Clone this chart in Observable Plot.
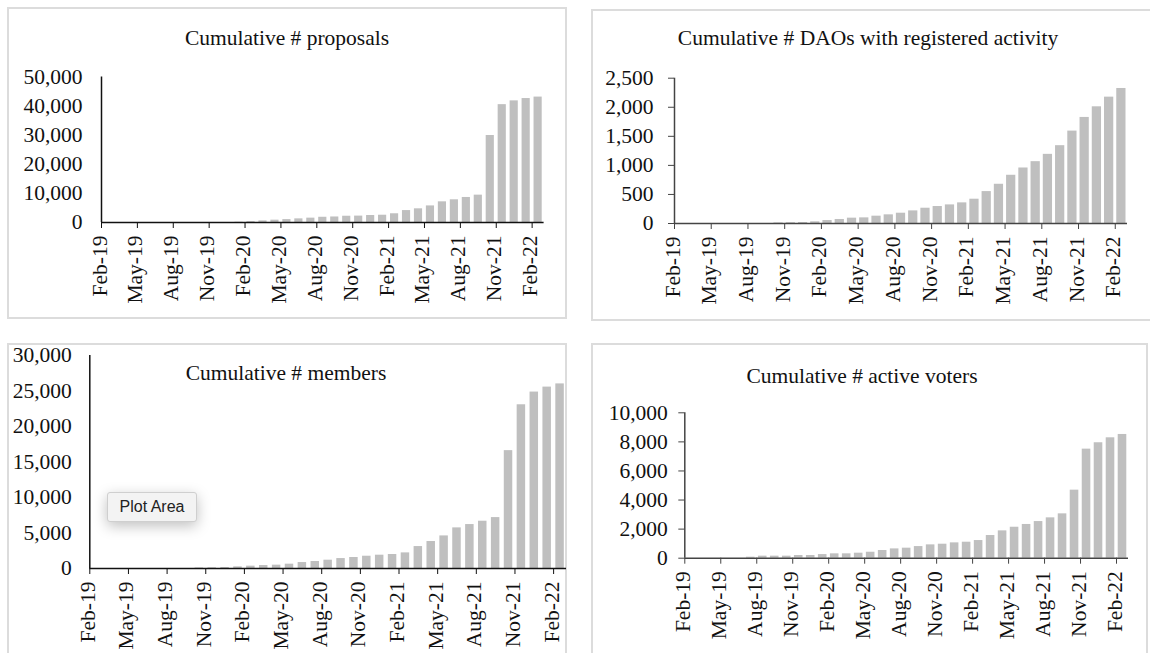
<!DOCTYPE html>
<html><head><meta charset="utf-8">
<script src="https://cdn.jsdelivr.net/npm/d3@7"></script>
<script src="https://cdn.jsdelivr.net/npm/@observablehq/plot@0.6"></script>
<style>
html,body{margin:0;padding:0;background:#fff;overflow:hidden;width:1150px;height:653px}
#root{position:relative;width:1150px;height:653px;overflow:hidden}
.panel{position:absolute;border:2px solid #dcdcdc;box-sizing:border-box}
.title{position:absolute;width:600px;text-align:center;font-family:'Liberation Serif','Times New Roman',serif;font-size:21.5px;line-height:26px;color:#111;white-space:nowrap}
.chart{position:absolute}
.tip{position:absolute;left:107px;top:492px;width:90px;height:30px;box-sizing:border-box;background:#f3f3f3;border:1px solid #cfcfcf;border-radius:3px;box-shadow:0 4px 14px rgba(0,0,0,0.25);font-family:'Liberation Sans',Arial,sans-serif;font-size:16px;line-height:28px;text-align:center;color:#222}
</style></head><body><div id="root"></div>
<script>
const months = ["Feb-19","Mar-19","Apr-19","May-19","Jun-19","Jul-19","Aug-19","Sep-19","Oct-19","Nov-19","Dec-19","Jan-20",
  "Feb-20","Mar-20","Apr-20","May-20","Jun-20","Jul-20","Aug-20","Sep-20","Oct-20","Nov-20","Dec-20","Jan-21",
  "Feb-21","Mar-21","Apr-21","May-21","Jun-21","Jul-21","Aug-21","Sep-21","Oct-21","Nov-21","Dec-21","Jan-22","Feb-22"];
const xTickIndex = [0,3,6,9,12,15,18,21,24,27,30,33,36];

const proposals = [0,0,0,0,0,0,0,0,0,0,0,100,300,550,800,1000,1250,1500,1800,1900,2150,2200,2400,2500,3000,4100,4700,5700,7100,7800,8600,9400,29900,40500,41800,42600,43100];
const daos = [0,0,0,0,0,0,0,0,10,14,17,29,51,69,92,97,126,149,177,217,263,292,320,355,418,549,675,830,955,1064,1190,1339,1590,1825,2008,2174,2323];
const members = [0,0,0,0,0,0,0,0,80,100,140,230,330,420,470,610,840,985,1170,1400,1550,1730,1875,1970,2200,3090,3800,4590,5720,6190,6660,7170,16600,23060,24850,25550,26000];
const voters = [0,0,0,0,0,70,140,140,140,185,185,250,300,300,345,410,530,640,690,800,917,963,1055,1100,1215,1560,1880,2130,2320,2520,2775,3050,4680,7500,7940,8280,8510];

const titles = ["Cumulative # proposals","Cumulative # DAOs with registered activity","Cumulative # members","Cumulative # active voters"];
const yTicks1 = [0,10000,20000,30000,40000,50000];
const yTicks2 = [0,500,1000,1500,2000,2500];
const yTicks3 = [0,5000,10000,15000,20000,25000,30000];
const yTicks4 = [0,2000,4000,6000,8000,10000];

const FONT = "'Liberation Serif','Times New Roman',serif";
const root = document.getElementById("root");

const panels = [
  {values: proposals, yt: yTicks1, box:[7,7,560,312], plot:[7,7,560,312], xr:[101,543.6], yr:[222,76.5], ts:0, tp:19, inset:1.9, col:"#111", title:titles[0], tc:[287,38]},
  {values: daos, yt: yTicks2, box:[591,9,562,312], plot:[591,9,559,312], xr:[674,1127], yr:[223,77.7], ts:6, tp:15, inset:1.5, col:"#444", title:titles[1], tc:[868,38]},
  {values: members, yt: yTicks3, box:[7,343,560,330], plot:[7,343,560,312], xr:[89.3,566], yr:[568,355], ts:0, tp:18, inset:2.2, col:"#111", title:titles[2], tc:[286,373]},
  {values: voters, yt: yTicks4, box:[591,343,557,330], plot:[591,343,557,312], xr:[684.3,1128], yr:[557.7,412.3], ts:6, tp:11, inset:1.7, col:"#444", title:titles[3], tc:[862,376]}
];

for (const p of panels) {
  const b = document.createElement("div");
  b.className = "panel";
  Object.assign(b.style, {left: p.box[0]+"px", top: p.box[1]+"px", width: p.box[2]+"px", height: p.box[3]+"px"});
  root.appendChild(b);
}

for (const p of panels) {
  const [L, T, W, H] = p.plot;
  const data = p.values.map((v, i) => ({i, j: i + 1, v}));
  const chart = Plot.plot({
    width: W, height: H,
    marginLeft: p.xr[0] - L, marginRight: L + W - p.xr[1],
    marginTop: p.yr[1] - T, marginBottom: T + H - p.yr[0],
    style: {fontFamily: FONT, fontSize: "21.5px", color: "#111", background: "transparent", overflow: "hidden"},
    x: {domain: [0, 37]},
    y: {domain: [0, p.yt[p.yt.length - 1]]},
    marks: [
      Plot.rectY(data, {x1: "i", x2: "j", y: "v", fill: "#bfbfbf", insetLeft: p.inset, insetRight: p.inset}),
      Plot.axisY(p.yt, {tickSize: p.ts, tickPadding: p.tp, tickFormat: d3.format(","), label: null, stroke: p.col, fontSize: 21.5}),
      Plot.axisX(xTickIndex, {tickSize: 6, tickFormat: () => "", label: null, stroke: p.col}),
      Plot.text(xTickIndex, {x: d => d, text: d => months[d], frameAnchor: "bottom", rotate: -90, textAnchor: "end", dy: 13, dx: 5, fontSize: 21.5, fill: "#111"}),
      Plot.ruleY([0], {stroke: p.col, strokeWidth: 1.5}),
      Plot.ruleX([0], {stroke: p.col, strokeWidth: 1.5})
    ]
  });
  chart.classList.add("chart");
  chart.style.left = L + "px";
  chart.style.top = T + "px";
  root.appendChild(chart);

  const t = document.createElement("div");
  t.className = "title";
  t.textContent = p.title;
  t.style.left = (p.tc[0] - 300) + "px";
  t.style.top = (p.tc[1] - 13) + "px";
  root.appendChild(t);
}

const tip = document.createElement("div");
tip.className = "tip";
tip.textContent = "Plot Area";
root.appendChild(tip);
</script></body></html>
